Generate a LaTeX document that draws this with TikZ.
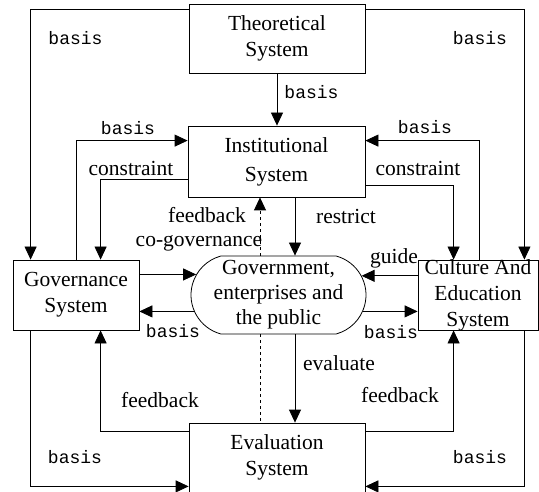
\documentclass[tikz,border=0pt]{standalone}
\usepackage{fontspec}
\setmainfont{Liberation Serif}
\setmonofont{Liberation Mono}
\usetikzlibrary{arrows.meta,shapes.misc}

\tikzset{
  sysbox/.style={draw, line width=0.8pt, inner sep=0pt, align=center, fill=white,
    font=\fontsize{21.5}{26}\selectfont},
  arr/.style={line width=0.8pt, -{Triangle[length=13pt,width=12pt]}},
  lnk/.style={line width=0.8pt},
  mlab/.style={font=\ttfamily\fontsize{18}{20}\selectfont, inner sep=0pt},
  slab/.style={font=\fontsize{21.5}{26}\selectfont, inner sep=0pt, align=center},
}

\begin{document}
\begin{tikzpicture}[x=1pt,y=-1pt]
\useasboundingbox (0,0) rectangle (539,492);

% dashed feedback line (behind the rounded box)
\draw[lnk, dashed] (260,334) -- (260,423);

% system boxes
\node[sysbox, minimum width=176pt, minimum height=69pt] (theo) at (277,38.5) {Theoretical\\System};
\node[sysbox, minimum width=177pt, minimum height=71pt] (inst) at (276.5,161.5) {Institutional\\[3pt]System};
\node[sysbox, minimum width=126pt, minimum height=70pt] (gov) at (76,295) {Governance\\System};
\node[sysbox, rounded rectangle, rounded rectangle arc length=150,
      minimum width=177pt, minimum height=78pt, inner sep=1pt] (pub) at (278.5,295)
      {Government,\\[-1pt]enterprises and\\[-1pt]the public};
\node[sysbox, minimum width=120pt, minimum height=70pt] (cul) at (478,295) {};
\node[slab] (cultxt) at (cul) {Culture And\\Education\\System};
\node[sysbox, minimum width=176pt, minimum height=69pt] (eva) at (277,457.5) {Evaluation\\System};

% from the theoretical system
\draw[arr] ([yshift=-6pt]theo.north west) -| ([xshift=18pt]gov.north west);
\draw[arr] ([yshift=-6pt]theo.north east) -| ([xshift=-14pt]cul.north east);
\draw[arr] (theo.south) -- (theo.south |- inst.north);

% between institutional system and the side systems
\draw[arr] ([xshift=64pt]gov.north west) |- ([yshift=-15pt]inst.north west);
\draw[arr] ([yshift=-54pt]inst.north west) -| ([xshift=88pt]gov.north west);
\draw[arr] ([xshift=62pt]cul.north west) |- ([yshift=-15pt]inst.north east);
\draw[arr] ([yshift=-60pt]inst.north east) -| ([xshift=36pt]cul.north west);
\draw[arr] ([xshift=18.5pt]inst.south) -- ([xshift=16.5pt]pub.north);
\coordinate (fbtop) at (260,256);
\draw[arr, dashed] (fbtop) -- (fbtop |- inst.south);

% around the rounded box
\draw[arr] (gov.east |- pub.166) -- (pub.166);
\draw[arr] (pub.191) -- (gov.east |- pub.191);
\draw[arr] (cul.west |- pub.13) -- (pub.13);
\draw[arr] (pub.-11) -- (cul.west |- pub.-11);
\draw[arr] ([xshift=16.5pt]pub.south) -- ([xshift=18pt]eva.north);

% from the evaluation system
\draw[arr] ([yshift=-9pt]eva.north west) -| ([xshift=88pt]gov.south west);
\draw[arr] ([yshift=-9pt]eva.north east) -| ([xshift=36pt]cul.south west);
\draw[arr] ([xshift=18pt]gov.south west) |- ([yshift=6pt]eva.south west);
\draw[arr] ([xshift=-14pt]cul.south east) |- ([yshift=6pt]eva.south east);

% labels
\foreach \p [count=\i] in {(75.5,38),(480,38),(311.5,92),(128,128),(425,127),
                            (173,331),(391,332),(75,457),(480,457)}
  \node[mlab] (bas\i) at \p {basis};
\node[slab] (con1) at (131,168) {constraint};
\node[slab] (con2) at (418,168) {constraint};
\node[slab] (res) at (346,216) {restrict};
\node[slab] (fb1) at (207,215) {feedback};
\node[slab] (cog) at (199,243) {co-governance};
\node[slab] (gui) at (394,258) {guide};
\node[slab] (evl) at (339,363) {evaluate};
\node[slab] (fb2) at (160,400) {feedback};
\node[slab] (fb3) at (400,395) {feedback};

\end{tikzpicture}
\end{document}
